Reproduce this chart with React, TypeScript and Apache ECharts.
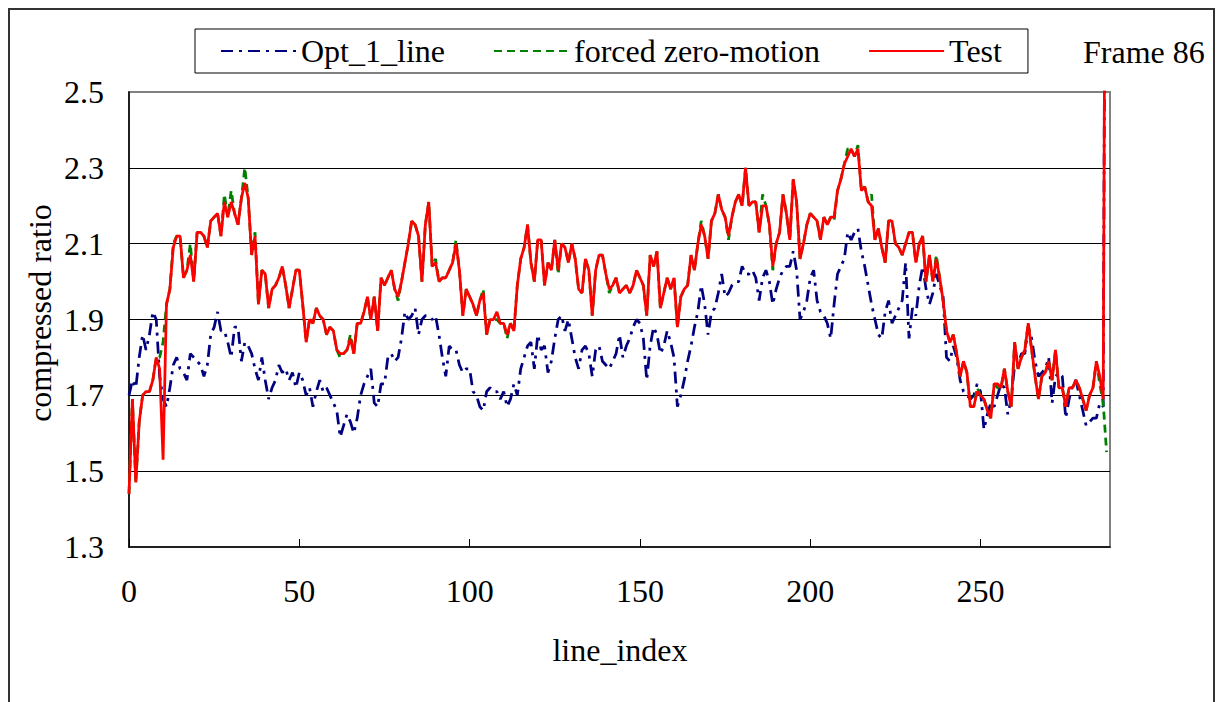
import React, { useEffect, useRef } from "react";
import * as echarts from "echarts";

const FONT = "Liberation Serif";

const SERIES_NAMES = ["Opt_1_line", "forced zero-motion", "Test"];
const X_TICKS = [0, 50, 100, 150, 200, 250];
const Y_LABELS = [1.3, 1.5, 1.7, 1.9, 2.1, 2.3, 2.5];
const Y_GRID = [1.5, 1.7, 1.9, 2.1, 2.3];

// Opt_1_line (index 0..287)
const opt1Line = [
  1.70, 1.74, 1.72, 1.80, 1.86, 1.82, 1.86, 1.92, 1.90, 1.75,
  1.69, 1.67, 1.72, 1.78, 1.80, 1.77, 1.76, 1.74, 1.81, 1.80,
  1.79, 1.78, 1.75, 1.78, 1.86, 1.88, 1.92, 1.87, 1.87, 1.84,
  1.80, 1.88, 1.88, 1.79, 1.84, 1.83, 1.81, 1.77, 1.74, 1.80,
  1.74, 1.69, 1.72, 1.74, 1.78, 1.76, 1.77, 1.74, 1.76, 1.72,
  1.76, 1.74, 1.70, 1.72, 1.67, 1.71, 1.74, 1.71, 1.72, 1.70,
  1.68, 1.66, 1.59, 1.62, 1.65, 1.63, 1.60, 1.64, 1.70, 1.73,
  1.75, 1.77, 1.68, 1.67, 1.73, 1.73, 1.80, 1.81, 1.79, 1.80,
  1.85, 1.92, 1.90, 1.91, 1.93, 1.86, 1.90, 1.91, 1.91, 1.90,
  1.91, 1.86, 1.80, 1.75, 1.83, 1.82, 1.82, 1.78, 1.76, 1.77,
  1.77, 1.71, 1.70, 1.67, 1.66, 1.71, 1.72, 1.71, 1.71, 1.69,
  1.71, 1.67, 1.69, 1.73, 1.70, 1.77, 1.80, 1.83, 1.84, 1.77,
  1.86, 1.82, 1.83, 1.76, 1.79, 1.85, 1.90, 1.91, 1.87, 1.90,
  1.85, 1.80, 1.77, 1.82, 1.83, 1.81, 1.75, 1.82, 1.83, 1.79,
  1.78, 1.77, 1.79, 1.81, 1.86, 1.80, 1.83, 1.85, 1.88, 1.90,
  1.89, 1.85, 1.74, 1.83, 1.88, 1.86, 1.81, 1.83, 1.87, 1.84,
  1.80, 1.67, 1.70, 1.74, 1.79, 1.83, 1.88, 1.92, 1.99, 1.94,
  1.86, 1.92, 1.93, 1.97, 2.02, 1.96, 1.97, 1.99, 2.00, 2.00,
  2.04, 2.02, 2.02, 2.03, 2.01, 1.95, 2.01, 2.03, 2.00, 1.94,
  1.98, 2.01, 2.03, 2.04, 2.04, 2.08, 2.03, 1.90, 1.92, 1.95,
  2.01, 2.03, 1.95, 1.92, 1.91, 1.89, 1.85, 1.94, 2.02, 2.04,
  2.06, 2.13, 2.11, 2.13, 2.14, 2.08, 2.04, 1.99, 1.94, 1.90,
  1.86, 1.85, 1.92, 1.95, 1.89, 1.91, 1.93, 1.95, 2.05, 1.85,
  1.93, 1.91, 1.99, 2.04, 1.98, 1.94, 1.97, 2.02, 1.99, 1.96,
  1.80, 1.79, 1.83, 1.80, 1.74, 1.71, 1.70, 1.69, 1.70, 1.73,
  1.71, 1.61, 1.65, 1.68, 1.67, 1.70, 1.73, 1.72, 1.65, 1.69,
  1.78, 1.78, 1.81, 1.81, 1.88, 1.85, 1.79, 1.75, 1.76, 1.77,
  1.80, 1.68, 1.75, 1.76, 1.75, 1.64, 1.69, 1.73, 1.74, 1.70,
  1.66, 1.62, 1.63, 1.64, 1.64, 1.68, 1.67, 4.00,
];

// forced zero-motion (index 0..287)
const forcedZeroMotion = [
  1.44, 1.69, 1.47, 1.63, 1.70, 1.71, 1.71, 1.74, 1.80, 1.80,
  1.84, 1.94, 1.98, 2.10, 2.12, 2.12, 2.01, 2.03, 2.10, 2.00,
  2.13, 2.13, 2.12, 2.09, 2.16, 2.17, 2.18, 2.12, 2.23, 2.17,
  2.24, 2.18, 2.15, 2.22, 2.30, 2.22, 2.07, 2.13, 1.94, 2.03,
  2.02, 1.93, 1.98, 1.99, 2.01, 2.04, 1.99, 1.93, 1.98, 2.03,
  2.03, 1.94, 1.84, 1.90, 1.89, 1.93, 1.91, 1.90, 1.86, 1.88,
  1.87, 1.82, 1.80, 1.81, 1.82, 1.86, 1.81, 1.89, 1.89, 1.92,
  1.96, 1.90, 1.96, 1.87, 2.01, 1.99, 2.01, 2.03, 1.98, 1.95,
  2.00, 2.05, 2.10, 2.16, 2.15, 2.12, 2.00, 2.15, 2.21, 2.04,
  2.06, 2.00, 2.01, 2.01, 2.03, 2.05, 2.11, 2.03, 1.91, 1.98,
  1.96, 1.94, 1.91, 1.95, 1.98, 1.86, 1.90, 1.90, 1.90, 1.89,
  1.89, 1.85, 1.89, 1.87, 1.99, 2.06, 2.09, 2.15, 2.05, 2.00,
  2.11, 2.11, 1.99, 2.05, 2.03, 2.11, 2.02, 2.10, 2.09, 2.05,
  2.10, 2.06, 1.98, 1.97, 2.06, 2.03, 1.91, 2.03, 2.07, 2.07,
  2.02, 1.97, 1.99, 2.01, 1.97, 1.98, 1.99, 1.97, 1.99, 2.03,
  2.01, 1.99, 1.91, 2.07, 2.04, 2.08, 1.93, 1.97, 2.01, 1.98,
  2.01, 1.88, 1.96, 1.98, 1.99, 2.07, 2.03, 2.10, 2.16, 2.12,
  2.06, 2.16, 2.18, 2.23, 2.19, 2.17, 2.11, 2.17, 2.21, 2.23,
  2.20, 2.30, 2.20, 2.21, 2.21, 2.13, 2.23, 2.20, 2.15, 2.03,
  2.10, 2.13, 2.23, 2.18, 2.11, 2.27, 2.21, 2.06, 2.10, 2.15,
  2.18, 2.17, 2.16, 2.11, 2.17, 2.15, 2.17, 2.16, 2.24, 2.27,
  2.31, 2.35, 2.35, 2.33, 2.36, 2.24, 2.25, 2.21, 2.23, 2.11,
  2.14, 2.09, 2.05, 2.16, 2.16, 2.10, 2.09, 2.07, 2.10, 2.13,
  2.13, 2.05, 2.10, 2.12, 2.00, 2.07, 2.00, 2.07, 2.01, 1.95,
  1.87, 1.84, 1.86, 1.81, 1.75, 1.79, 1.76, 1.67, 1.67, 1.72,
  1.70, 1.69, 1.66, 1.64, 1.73, 1.72, 1.72, 1.77, 1.71, 1.67,
  1.84, 1.77, 1.80, 1.82, 1.89, 1.82, 1.75, 1.69, 1.75, 1.76,
  1.79, 1.74, 1.82, 1.72, 1.72, 1.67, 1.72, 1.72, 1.74, 1.72,
  1.69, 1.66, 1.70, 1.72, 1.79, 1.73, 1.68, 1.55,
];

// Test (index 0..287)
const test = [
  1.44, 1.69, 1.47, 1.63, 1.70, 1.71, 1.71, 1.74, 1.80, 1.77,
  1.53, 1.94, 1.98, 2.09, 2.12, 2.12, 2.01, 2.03, 2.07, 2.00,
  2.13, 2.13, 2.12, 2.09, 2.16, 2.17, 2.18, 2.12, 2.21, 2.17,
  2.21, 2.18, 2.15, 2.22, 2.26, 2.22, 2.07, 2.12, 1.94, 2.03,
  2.02, 1.93, 1.98, 1.99, 2.01, 2.04, 1.99, 1.93, 1.98, 2.03,
  2.03, 1.94, 1.84, 1.90, 1.89, 1.93, 1.91, 1.90, 1.86, 1.88,
  1.87, 1.82, 1.81, 1.81, 1.82, 1.85, 1.81, 1.89, 1.89, 1.92,
  1.96, 1.90, 1.96, 1.87, 2.01, 1.99, 2.01, 2.03, 1.98, 1.96,
  2.00, 2.05, 2.10, 2.16, 2.15, 2.12, 2.00, 2.15, 2.21, 2.04,
  2.05, 2.00, 2.01, 2.01, 2.03, 2.05, 2.10, 2.03, 1.91, 1.98,
  1.96, 1.94, 1.91, 1.95, 1.97, 1.86, 1.90, 1.90, 1.92, 1.89,
  1.89, 1.86, 1.89, 1.87, 1.99, 2.06, 2.09, 2.15, 2.05, 2.00,
  2.11, 2.11, 1.99, 2.05, 2.03, 2.11, 2.03, 2.10, 2.09, 2.05,
  2.10, 2.06, 1.98, 1.97, 2.06, 2.03, 1.91, 2.03, 2.07, 2.07,
  2.02, 1.98, 1.99, 2.01, 1.97, 1.98, 1.99, 1.97, 1.99, 2.03,
  2.01, 1.99, 1.91, 2.07, 2.04, 2.08, 1.93, 1.97, 2.01, 1.98,
  2.01, 1.88, 1.96, 1.98, 1.99, 2.07, 2.03, 2.10, 2.15, 2.12,
  2.06, 2.16, 2.18, 2.23, 2.19, 2.17, 2.12, 2.17, 2.21, 2.23,
  2.20, 2.30, 2.20, 2.21, 2.21, 2.13, 2.20, 2.20, 2.15, 2.04,
  2.10, 2.13, 2.23, 2.18, 2.11, 2.27, 2.21, 2.06, 2.10, 2.15,
  2.18, 2.17, 2.16, 2.11, 2.17, 2.15, 2.17, 2.17, 2.24, 2.27,
  2.31, 2.33, 2.35, 2.33, 2.35, 2.24, 2.25, 2.21, 2.20, 2.11,
  2.14, 2.09, 2.05, 2.16, 2.16, 2.10, 2.09, 2.07, 2.10, 2.13,
  2.13, 2.05, 2.10, 2.12, 2.00, 2.07, 2.00, 2.06, 2.01, 1.95,
  1.87, 1.84, 1.86, 1.81, 1.75, 1.79, 1.76, 1.67, 1.67, 1.71,
  1.70, 1.69, 1.66, 1.64, 1.73, 1.73, 1.72, 1.77, 1.71, 1.67,
  1.84, 1.77, 1.80, 1.82, 1.89, 1.82, 1.75, 1.69, 1.75, 1.76,
  1.79, 1.74, 1.82, 1.72, 1.72, 1.67, 1.72, 1.72, 1.74, 1.72,
  1.69, 1.66, 1.70, 1.72, 1.79, 1.75, 1.69, 4.00,
];

const FRAME_LABEL = "Frame 86";
const X_NAME = "line_index";
const Y_NAME = "compressed ratio";

const toPoints = (arr: number[]) => arr.map((v, i) => [i, v]);

export default function App() {
  const ref = useRef<HTMLDivElement>(null);

  useEffect(() => {
    document.documentElement.style.overflow = "hidden";
    if (!ref.current) return;
    const chart = echarts.init(ref.current, null, { renderer: "svg" });
    const fontSize = 32;
    chart.setOption({
      animation: false,
      backgroundColor: "#ffffff",
      textStyle: { fontFamily: FONT, color: "#000" },
      grid: {
        left: 119,
        top: 82,
        width: 981,
        height: 455,
        show: true,
        borderColor: "#808080",
        borderWidth: 2,
        backgroundColor: "transparent",
      },
      legend: {
        left: 185,
        top: 19,
        padding: [5, 26, 5, 25],
        itemWidth: 75,
        itemHeight: 14,
        itemGap: 48,
        borderColor: "#000",
        borderWidth: 1,
        backgroundColor: "#fff",
        selectedMode: false,
        itemStyle: { opacity: 0 },
        textStyle: { fontSize, fontFamily: FONT, color: "#000", lineHeight: 34 },
        data: SERIES_NAMES,
      },
      xAxis: {
        type: "value",
        min: 0,
        max: 288,
        axisLine: { show: true, onZero: false, lineStyle: { color: "#000", width: 1.5 } },
        axisTick: {
          show: true,
          inside: true,
          length: 8,
          customValues: X_TICKS,
          lineStyle: { color: "#000", width: 1 },
        },
        axisLabel: {
          customValues: X_TICKS,
          fontSize,
          fontFamily: FONT,
          color: "#000",
          margin: 28,
        },
        splitLine: { show: false },
      },
      yAxis: {
        type: "value",
        min: 1.3,
        max: 2.5,
        axisLine: { show: true, onZero: false, lineStyle: { color: "#000", width: 1.5 } },
        axisTick: { show: false, customValues: Y_GRID },
        axisLabel: {
          customValues: Y_LABELS,
          fontSize,
          fontFamily: FONT,
          color: "#000",
          margin: 25,
          formatter: (v: number) => v.toFixed(1),
        },
        splitLine: { show: true, lineStyle: { color: "#000", width: 1 } },
      },
      graphic: [
        {
          type: "text",
          x: 1073,
          y: 42,
          style: {
            text: FRAME_LABEL,
            fontSize,
            fontFamily: FONT,
            fill: "#000",
            textAlign: "left",
            textVerticalAlign: "middle",
          },
        },
        {
          type: "text",
          x: 30,
          y: 303,
          rotation: Math.PI / 2,
          style: {
            text: Y_NAME,
            fontSize,
            fontFamily: FONT,
            fill: "#000",
            textAlign: "center",
            textVerticalAlign: "middle",
          },
        },
        {
          type: "text",
          x: 610,
          y: 640,
          style: {
            text: X_NAME,
            fontSize,
            fontFamily: FONT,
            fill: "#000",
            textAlign: "center",
            textVerticalAlign: "middle",
          },
        },
      ],
      series: [
        {
          name: SERIES_NAMES[0],
          type: "line",
          data: toPoints(opt1Line),
          symbol: "none",
          silent: true,
          z: 2,
          itemStyle: { color: "#000080" },
          lineStyle: { color: "#000080", width: 2.75, type: [12, 6, 3, 6] },
        },
        {
          name: SERIES_NAMES[1],
          type: "line",
          data: toPoints(forcedZeroMotion),
          symbol: "none",
          silent: true,
          z: 3,
          itemStyle: { color: "#008000" },
          lineStyle: { color: "#008000", width: 2.75, type: [8, 5] },
        },
        {
          name: SERIES_NAMES[2],
          type: "line",
          data: toPoints(test),
          symbol: "none",
          silent: true,
          z: 4,
          itemStyle: { color: "#ff0000" },
          lineStyle: { color: "#ff0000", width: 2.75 },
        },
      ],
    });
    return () => {
      chart.dispose();
    };
  }, []);

  return (
    <div
      style={{
        height: 694,
        boxSizing: "border-box",
        borderTop: "2px solid #333",
        borderLeft: "2px solid #333",
        borderRight: "2px solid #333",
        background: "#fff",
      }}
    >
      <div ref={ref} style={{ width: "100%", height: "100%" }} />
    </div>
  );
}
